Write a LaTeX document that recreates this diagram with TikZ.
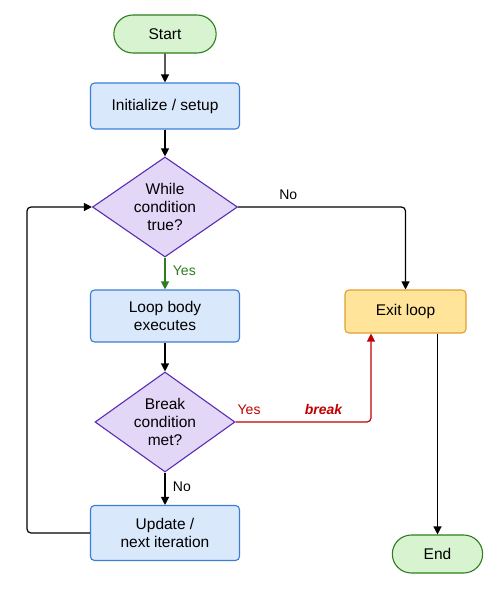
\documentclass[tikz,border=0pt]{standalone}
\usepackage{fontspec}
\setmainfont{Liberation Sans}
\usetikzlibrary{arrows.meta,shapes.geometric,shapes.misc}
\definecolor{flowGreen}{HTML}{2E7D1E}
\definecolor{flowGreenPale}{HTML}{D8F3D0}
\definecolor{flowBlue}{HTML}{3A7FD5}
\definecolor{flowBluePale}{HTML}{DAE8FC}
\definecolor{flowPurple}{HTML}{5A2DB0}
\definecolor{flowPurplePale}{HTML}{E3D7F7}
\definecolor{flowAmber}{HTML}{E0A030}
\definecolor{flowAmberPale}{HTML}{FFE49A}
\definecolor{flowRed}{HTML}{C00000}
\tikzset{
  terminal/.style={draw=flowGreen, fill=flowGreenPale, line width=1.1pt, rounded rectangle},
  processbox/.style={draw=flowBlue, fill=flowBluePale, line width=1.1pt, rounded corners=4pt, align=center},
  decision/.style={draw=flowPurple, fill=flowPurplePale, line width=1.1pt, diamond, aspect=1.45, inner sep=0pt, align=center},
  exitbox/.style={draw=flowAmber, fill=flowAmberPale, line width=1.1pt, rounded corners=4pt},
  flow/.style={-{Triangle[length=8pt,width=8pt]}, line width=1.2pt, rounded corners=4pt},
  lbl/.style={font=\fontsize{14}{16}\selectfont}
}
\begin{document}
\begin{tikzpicture}[x=1pt, y=-1pt, font=\fontsize{15.5}{18}\selectfont]
  \useasboundingbox (0,0) rectangle (500,590);
  % Main column
  \node[terminal, minimum width=109, minimum height=38] (start) at (165,34) {Start};
  \node[processbox, minimum width=149, minimum height=46] (init) at (165,106) {Initialize / setup};
  \node[decision, minimum width=145, minimum height=100] (while) at (165,207) {While\\condition\\true?};
  \node[processbox, minimum width=149, minimum height=52] (body) at (165,316) {Loop body\\executes};
  \node[decision, minimum width=140, minimum height=100] (brk) at (165,422) {Break\\condition\\met?};
  \node[processbox, minimum width=149, minimum height=55] (update) at (165,533) {Update /\\next iteration};
  % Right column
  \node[exitbox, minimum width=121, minimum height=43] (exit) at (405.5,311.5) {Exit loop};
  \node[terminal, minimum width=97, minimum height=38] (finish) at (437.5,554) {End};
  \coordinate (loopx) at (27,0);
  \coordinate (brkx) at (371,0);
  \coordinate (endx) at (437.5,0);
  % Connectors
  \draw[flow] (start) -- (init);
  \draw[flow] (init) -- (while);
  \draw[flow, flowGreen] (while) -- node[lbl, right=4pt, pos=0.4] {Yes} (body);
  \draw[flow] (body) -- (brk);
  \draw[flow] (brk) -- node[lbl, right=4pt, pos=0.45] {No} (update);
  \draw[flow] (update.west) -| (loopx |- while.west) -- (while.west);
  \draw[flow] (while.east) -- node[lbl, above=3pt, pos=0.3] {No} (while.east -| exit.north) -- (exit.north);
  \draw[flow, flowRed] (brk.east) -- node[lbl, above=3pt, pos=0.1] {Yes} node[lbl, above=3pt, pos=0.65] {\bfseries\itshape break} (brk.east -| brkx) -- (brkx |- exit.south);
  \draw[flow] (endx |- exit.south) -- (finish.north);
\end{tikzpicture}
\end{document}
